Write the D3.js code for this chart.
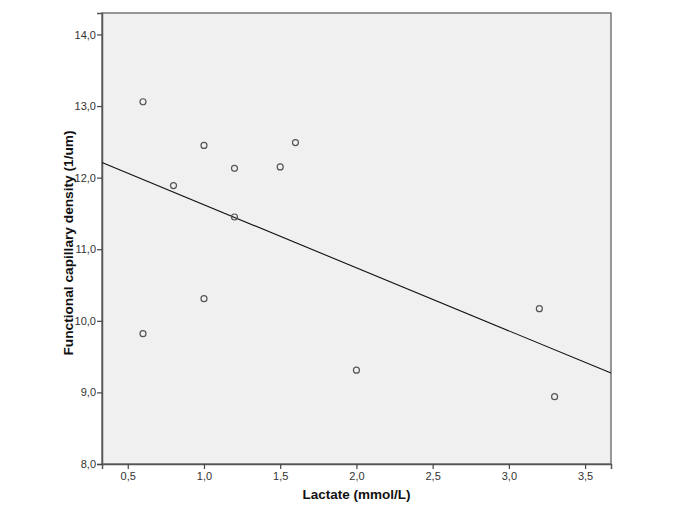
<!DOCTYPE html>
<html><head><meta charset="utf-8">
<script src="https://cdn.jsdelivr.net/npm/d3@7"></script>
<style>body{margin:0;background:#fff}svg{display:block}</style>
</head><body>
<script>
const lactate = [0.6, 0.6, 0.8, 1.0, 1.0, 1.2, 1.2, 1.5, 1.6, 2.0, 3.2, 3.3];
const fcd = [13.06, 9.82, 11.89, 12.45, 10.31, 12.13, 11.45, 12.15, 12.49, 9.31, 10.17, 8.94];
const xTicks = [0.5, 1.0, 1.5, 2.0, 2.5, 3.0, 3.5];
const yTicks = [8, 9, 10, 11, 12, 13, 14];
const xTitle = "Lactate (mmol/L)";
const yTitle = "Functional capillary density (1/um)";

const W = 685, H = 513;
const L = 102, R = 611, T = 13, B = 464;
const svg = d3.select("body").append("svg").attr("width", W).attr("height", H);
const x = d3.scaleLinear().domain([0.331, 3.67]).range([L, R]);
const y = d3.scaleLinear().domain([8, 14.3]).range([B, T]);
const fmt = d => d.toFixed(1).replace(".", ",");

svg.append("rect").attr("x", L).attr("y", T).attr("width", R - L).attr("height", B - T)
  .attr("fill", "#f0f0f0").attr("stroke", "#777").attr("stroke-width", 1.5);

const ax = svg.append("g").attr("transform", `translate(0,${B})`)
  .call(d3.axisBottom(x).tickValues(xTicks).tickFormat(fmt).tickSize(5).tickPadding(3));
const ay = svg.append("g").attr("transform", `translate(${L},0)`)
  .call(d3.axisLeft(y).tickValues(yTicks).tickFormat(fmt).tickSize(5).tickPadding(1));
[ax, ay].forEach(g => {
  g.select(".domain").attr("stroke", "#555").attr("stroke-width", 1.5);
  g.selectAll(".tick line").attr("stroke", "#444").attr("stroke-width", 1.2);
  g.selectAll(".tick text").attr("fill", "#333").style("font-family", "Arial, 'Liberation Sans', sans-serif").style("font-size", "11px");
});

// least squares fit line
const mx = d3.mean(lactate), my = d3.mean(fcd);
let sxy = 0, sxx = 0;
lactate.forEach((v, i) => { sxy += (v - mx) * (fcd[i] - my); sxx += (v - mx) * (v - mx); });
const slope = sxy / sxx, icpt = my - slope * mx;
const [x0, x1] = x.domain();
svg.append("line").attr("x1", x(x0)).attr("y1", y(icpt + slope * x0))
  .attr("x2", x(x1)).attr("y2", y(icpt + slope * x1))
  .attr("stroke", "#111").attr("stroke-width", 1.1);

svg.append("g").selectAll("circle").data(lactate).join("circle")
  .attr("cx", d => x(d)).attr("cy", (d, i) => y(fcd[i])).attr("r", 3)
  .attr("fill", "none").attr("stroke", "#555").attr("stroke-width", 1.2);

svg.append("text").attr("x", (L + R) / 2).attr("y", 499).attr("text-anchor", "middle")
  .style("font-family", "Arial, 'Liberation Sans', sans-serif").style("font-size", "13.5px").style("font-weight", "bold")
  .attr("fill", "#111").text(xTitle);
svg.append("text").attr("transform", `translate(73,243) rotate(-90)`).attr("text-anchor", "middle")
  .style("font-family", "Arial, 'Liberation Sans', sans-serif").style("font-size", "13.7px").style("font-weight", "bold")
  .attr("fill", "#111").text(yTitle);
</script>
</body></html>
